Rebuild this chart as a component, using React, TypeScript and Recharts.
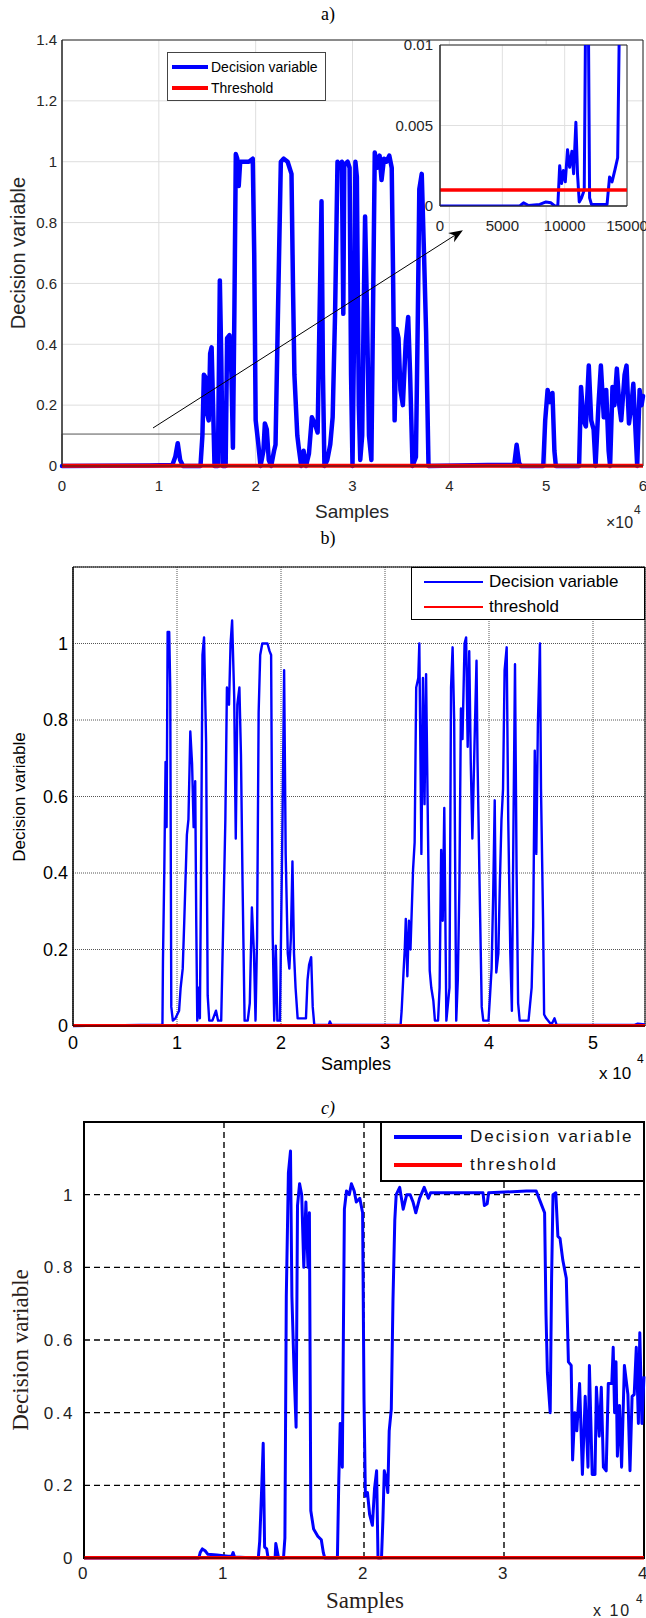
import React from 'react';
import {
  LineChart,
  Line,
  XAxis,
  YAxis,
  CartesianGrid,
  ReferenceArea,
  ReferenceLine,
  Legend,
} from 'recharts';

// ---------------- data ----------------
const thresholdLevel = 0.001;

// panel a)
const panelATicksX = [0, 10000, 20000, 30000, 40000, 50000, 60000];
const panelATicksY = [0, 0.2, 0.4, 0.6, 0.8, 1, 1.2, 1.4];
const panelADecision: [number, number][] = [
  [0, 0], [9000, 0.002], [11400, 0.003], [11700, 0.03], [11950, 0.075], [12200, 0.02], [12500, 0],
  [14300, 0], [14500, 0.1], [14650, 0.3], [14850, 0.29], [15000, 0.17], [15150, 0.15], [15300, 0.37],
  [15450, 0.39], [15600, 0.2], [15750, 0], [16100, 0], [16300, 0.61], [16450, 0.35], [16600, 0],
  [16900, 0], [17050, 0.42], [17300, 0.43], [17500, 0.3], [17650, 0.06], [17800, 0.5], [17950, 1.025],
  [18100, 1.01], [18250, 0.92], [18400, 1.0], [18800, 1.0], [19300, 1.0], [19700, 1.01], [19850, 0.7],
  [20000, 0.15], [20250, 0.08], [20500, 0], [20800, 0.05], [20950, 0.14], [21150, 0.12], [21350, 0.02],
  [21600, 0], [21900, 0.05], [22050, 0.07], [22300, 0.5], [22600, 1.0], [22900, 1.01], [23300, 1.0],
  [23700, 0.96], [23850, 0.6], [24000, 0.3], [24300, 0.1], [24450, 0.06], [24700, 0], [24950, 0.05],
  [25200, 0], [25500, 0.04], [25800, 0.16], [26100, 0.14], [26400, 0.11], [26600, 0.5], [26800, 0.87],
  [26950, 0.3], [27100, 0], [27400, 0.02], [27700, 0.07], [27950, 0.16], [28200, 0.5], [28450, 1.0],
  [28700, 0.98], [28900, 1.0], [29050, 0.5], [29150, 0.99], [29500, 1.0], [29700, 0.98], [29850, 0.3],
  [30000, 0], [30150, 0.4], [30300, 1.0], [30450, 0.95], [30650, 0.2], [30800, 0.02], [31000, 0.1],
  [31150, 0.5], [31300, 0.82], [31500, 0.5], [31700, 0.1], [31950, 0.02], [32150, 0.6], [32300, 1.03],
  [32550, 0.98], [32800, 1.02], [33000, 0.94], [33250, 1.01], [33500, 1.0], [33800, 1.02], [34050, 0.98],
  [34200, 0.6], [34350, 0.15], [34550, 0.45], [34750, 0.42], [34950, 0.25], [35200, 0.2], [35500, 0.41],
  [35750, 0.49], [35950, 0.3], [36200, 0], [36550, 0.03], [36750, 0.5], [36900, 0.91], [37150, 0.96],
  [37400, 0.68], [37600, 0.44], [37850, 0], [44000, 0.003], [46700, 0.003], [46950, 0.07], [47200, 0.01],
  [47400, 0], [49700, 0], [49900, 0.15], [50150, 0.25], [50400, 0.21], [50650, 0.24], [50850, 0.05],
  [51000, 0], [53400, 0], [53600, 0.26], [53850, 0.15], [54100, 0.13], [54400, 0.33], [54650, 0.15],
  [54900, 0.12], [55100, 0], [55400, 0.2], [55650, 0.33], [55950, 0.16], [56200, 0.25], [56450, 0.05],
  [56600, 0], [56850, 0.26], [57050, 0.2], [57300, 0.32], [57550, 0.2], [57750, 0.15], [58100, 0.3],
  [58300, 0.33], [58550, 0.14], [58800, 0.2], [59000, 0.27], [59250, 0.1], [59400, 0], [59650, 0.25],
  [59850, 0.2], [60000, 0.23],
];
const panelAThreshold: [number, number][] = [[0, thresholdLevel], [60000, thresholdLevel]];
const panelAZoomBox = { x1: 0, x2: 16000, y1: 0, y2: 0.105 };
const panelAArrow = [{ x: 9400, y: 0.125 }, { x: 41400, y: 0.775 }];

// panel a) inset
const insetTicksX = [0, 5000, 10000, 15000];
const insetTicksY = [0, 0.005, 0.01];
const insetDecision: [number, number][] = [
  [0, 0], [6400, 0], [6700, 0.0002], [7100, 0.00003], [8000, 0.0001], [8500, 0.00025], [8900, 0.0002],
  [9200, 0], [9450, 0], [9600, 0.0025], [9750, 0.0014], [9900, 0.0022], [10050, 0.0015], [10230, 0.0035],
  [10400, 0.0024], [10580, 0.0034], [10720, 0.002], [10900, 0.0052], [11030, 0.002], [11170, 0.00025],
  [11350, 0.0005], [11570, 0.001], [11680, 0.012], [11900, 0.012], [12000, 0.0005], [12150, 0.0001],
  [13400, 0.0001], [13600, 0.0018], [13800, 0.0015], [14050, 0.0023], [14250, 0.003], [14400, 0.012],
  [15000, 0.012],
];
const insetThreshold: [number, number][] = [[0, thresholdLevel], [15000, thresholdLevel]];

// panel b)
const panelBTicksX = [0, 10000, 20000, 30000, 40000, 50000];
const panelBTicksY = [0, 0.2, 0.4, 0.6, 0.8, 1];
const panelBDecision: [number, number][] = [
  [0, 0], [6500, 0.003], [8600, 0.003], [8650, 0.17], [8780, 0.41], [8900, 0.69], [9000, 0.52],
  [9100, 1.03], [9250, 1.03], [9350, 0.885], [9450, 0.05], [9600, 0.014], [9850, 0.02], [10200, 0.04],
  [10350, 0.1], [10550, 0.15], [10700, 0.275], [10950, 0.5], [11100, 0.54], [11280, 0.77], [11450, 0.685],
  [11600, 0.52], [11750, 0.64], [11850, 0.275], [11950, 0.014], [12050, 0.1], [12200, 0.02], [12300, 0.36],
  [12450, 0.97], [12600, 1.016], [12800, 0.74], [12950, 0.08], [13100, 0.014], [13400, 0.014], [13750, 0.04],
  [13950, 0.014], [14250, 0.014], [14500, 0.34], [14650, 0.54], [14800, 0.885], [15000, 0.84], [15150, 1.0],
  [15300, 1.06], [15500, 0.86], [15650, 0.49], [15800, 0.84], [16000, 0.885], [16150, 0.71], [16300, 0.38],
  [16500, 0.014], [16800, 0.014], [17000, 0.06], [17200, 0.31], [17400, 0.19], [17550, 0.014], [17700, 0.23],
  [17850, 0.82], [18000, 0.97], [18200, 1.0], [18700, 1.0], [18900, 0.98], [19050, 0.97], [19200, 0.24],
  [19350, 0.014], [19500, 0.21], [19650, 0.014], [19900, 0.014], [20150, 0.55], [20300, 0.93], [20450, 0.45],
  [20650, 0.19], [20800, 0.15], [20950, 0.23], [21100, 0.43], [21250, 0.19], [21400, 0.1], [21600, 0.02],
  [22400, 0.02], [22550, 0.12], [22700, 0.16], [22900, 0.18], [23050, 0.05], [23200, 0.003], [24600, 0.003],
  [24700, 0.012], [24850, 0.003], [31500, 0.003], [31600, 0.04], [31800, 0.15], [31900, 0.2], [32000, 0.28],
  [32150, 0.13], [32300, 0.275], [32450, 0.2], [32700, 0.41], [32850, 0.48], [33000, 0.885], [33200, 0.91],
  [33300, 1.0], [33500, 0.45], [33650, 0.91], [33800, 0.58], [33950, 0.92], [34100, 0.58], [34300, 0.145],
  [34450, 0.1], [34650, 0.066], [34800, 0.014], [35100, 0.014], [35250, 0.1], [35400, 0.46], [35550, 0.275],
  [35700, 0.57], [35900, 0.014], [36200, 0.1], [36350, 0.885], [36500, 0.99], [36650, 0.8], [36850, 0.014],
  [37000, 0.12], [37150, 0.36], [37300, 0.83], [37450, 0.75], [37650, 1.0], [37800, 1.016], [37950, 0.73],
  [38100, 0.98], [38250, 0.685], [38400, 0.49], [38600, 0.73], [38800, 0.955], [38900, 0.69], [39100, 0.36],
  [39300, 0.05], [39450, 0.014], [39950, 0.014], [40100, 0.08], [40250, 0.15], [40400, 0.34], [40550, 0.59],
  [40700, 0.14], [40900, 0.19], [41050, 0.38], [41200, 0.54], [41350, 0.62], [41500, 0.93], [41700, 0.99],
  [41850, 0.54], [42050, 0.19], [42200, 0.04], [42350, 0.52], [42500, 0.946], [42650, 0.41], [42800, 0.06],
  [42950, 0.014], [43800, 0.014], [44100, 0.1], [44250, 0.26], [44400, 0.72], [44550, 0.45], [44700, 0.79],
  [44900, 1.0], [45000, 0.62], [45200, 0.275], [45300, 0.03], [45500, 0.02], [46000, 0.003], [46300, 0.02],
  [46500, 0.003], [54000, 0.003], [54300, 0.006], [55000, 0.004],
];
const panelBThreshold: [number, number][] = [[0, thresholdLevel], [55000, thresholdLevel]];

// panel c)
const panelCTicksX = [0, 10000, 20000, 30000, 40000];
const panelCTicksY = [0, 0.2, 0.4, 0.6, 0.8, 1];
const panelCDecision: [number, number][] = [
  [0, 0], [8200, 0], [8300, 0.015], [8450, 0.025], [8650, 0.02], [8850, 0.01], [9500, 0.008], [10300, 0.005],
  [10550, 0.005], [10650, 0.015], [10750, 0.003], [12450, 0], [12550, 0.046], [12700, 0.2], [12800, 0.316],
  [12900, 0.03], [13050, 0.025], [13150, 0], [13650, 0], [13700, 0.04], [13900, 0], [14250, 0], [14350, 0.055],
  [14450, 0.72], [14600, 1.06], [14750, 1.12], [14850, 0.72], [15000, 0.52], [15150, 0.36], [15250, 0.97],
  [15400, 1.03], [15550, 1.0], [15700, 0.8], [15850, 0.98], [16000, 0.8], [16100, 0.95], [16200, 0.13],
  [16400, 0.08], [16700, 0.06], [16950, 0.05], [17100, 0.014], [17200, 0], [18100, 0], [18200, 0.215],
  [18300, 0.37], [18450, 0.25], [18600, 0.96], [18750, 1.01], [18950, 1.0], [19100, 1.03], [19300, 1.01],
  [19450, 0.98], [19700, 0.99], [19900, 0.95], [20000, 0.436], [20100, 0.17], [20250, 0.18], [20400, 0.12],
  [20600, 0.09], [20750, 0.19], [20900, 0.24], [21000, 0], [21250, 0], [21350, 0.105], [21450, 0.24],
  [21600, 0.215], [21700, 0.18], [21800, 0.35], [21950, 0.41], [22070, 0.71], [22200, 0.93], [22300, 1.0],
  [22550, 1.02], [22800, 0.96], [23050, 1.0], [23300, 1.0], [23500, 0.98], [23700, 0.95], [23970, 0.99],
  [24300, 1.02], [24600, 0.99], [24750, 1.005], [28500, 1.005], [28600, 0.97], [28800, 0.975], [28900, 1.005],
  [31600, 1.01], [32300, 1.01], [32550, 0.985], [32900, 0.95], [33000, 0.67], [33100, 0.51], [33300, 0.4],
  [33400, 0.77], [33500, 1.0], [33700, 1.005], [33850, 0.885], [34000, 0.88], [34200, 0.82], [34450, 0.77],
  [34600, 0.54], [34800, 0.53], [34900, 0.27], [35050, 0.4], [35200, 0.35], [35400, 0.48], [35600, 0.23],
  [35800, 0.445], [36000, 0.25], [36100, 0.53], [36300, 0.23], [36500, 0.23], [36600, 0.47], [36800, 0.335],
  [36950, 0.47], [37100, 0.25], [37300, 0.24], [37450, 0.48], [37700, 0.48], [37800, 0.58], [37900, 0.4],
  [38000, 0.54], [38100, 0.28], [38250, 0.42], [38400, 0.25], [38600, 0.53], [38850, 0.45], [39000, 0.24],
  [39150, 0.445], [39300, 0.45], [39450, 0.58], [39600, 0.37], [39700, 0.62], [39850, 0.37], [40000, 0.5],
];
const panelCThreshold: [number, number][] = [[0, thresholdLevel], [40000, thresholdLevel]];

// ---------------- helpers ----------------
const rows = (pts: [number, number][]) => pts.map(([x, y]) => ({ x, y }));
const fmtE4 = (v: number) => String(v / 10000);
const fmtNum = (v: number) => String(v);

const FA = "'Liberation Sans', Arial, Helvetica, sans-serif";
const FS = "'Liberation Serif', 'Times New Roman', Times, serif";

const arrowShape = (props: any) => {
  const { x1, y1, x2, y2 } = props;
  if ([x1, y1, x2, y2].some((v) => typeof v !== 'number')) return <g />;
  const ang = Math.atan2(y2 - y1, x2 - x1);
  const L = 14;
  const W = 5.5;
  const bx = x2 - L * Math.cos(ang);
  const by = y2 - L * Math.sin(ang);
  const nx = x2 - (L * 0.7) * Math.cos(ang);
  const ny = y2 - (L * 0.7) * Math.sin(ang);
  const p1 = `${bx + W * Math.sin(ang)},${by - W * Math.cos(ang)}`;
  const p2 = `${bx - W * Math.sin(ang)},${by + W * Math.cos(ang)}`;
  return (
    <g>
      <line x1={x1} y1={y1} x2={nx} y2={ny} stroke="#000" strokeWidth={1} />
      <polygon points={`${x2},${y2} ${p1} ${nx},${ny} ${p2}`} fill="#000" />
    </g>
  );
};

type LegendCfg = {
  w: number;
  h: number;
  border: string;
  rowY: number[];
  lineX: number;
  lineW: number;
  thick: number;
  gap: number;
  fontSize: number;
  letterSpacing?: number;
  color: string;
};

const makeLegend = (cfg: LegendCfg) => (props: any) => {
  const payload = (props && props.payload) || [];
  return (
    <div
      style={{
        boxSizing: 'border-box',
        width: cfg.w,
        height: cfg.h,
        border: cfg.border,
        background: '#fff',
        position: 'relative',
      }}
    >
      {payload.map((p: any, i: number) => (
        <div
          key={i}
          style={{
            position: 'absolute',
            left: 0,
            top: cfg.rowY[i] - 10,
            height: 20,
            display: 'flex',
            alignItems: 'center',
            whiteSpace: 'nowrap',
          }}
        >
          <span
            style={{
              display: 'inline-block',
              marginLeft: cfg.lineX,
              width: cfg.lineW,
              height: cfg.thick,
              background: p.color,
            }}
          />
          <span
            style={{
              marginLeft: cfg.gap,
              fontSize: cfg.fontSize,
              fontFamily: FA,
              color: cfg.color,
              letterSpacing: cfg.letterSpacing || 0,
              lineHeight: '20px',
            }}
          >
            {p.value}
          </span>
        </div>
      ))}
    </div>
  );
};

const legendA = makeLegend({
  w: 159, h: 49, border: '1px solid #444', rowY: [14, 35], lineX: 4, lineW: 36, thick: 4,
  gap: 3, fontSize: 14, color: '#000',
});
const legendB = makeLegend({
  w: 234, h: 53, border: '1.5px solid #000', rowY: [14, 39], lineX: 12, lineW: 59, thick: 2.5,
  gap: 6, fontSize: 17, color: '#000',
});
const legendC = makeLegend({
  w: 265, h: 61, border: '2px solid #000', rowY: [14, 42], lineX: 12, lineW: 68, thick: 3.5,
  gap: 8, fontSize: 17, letterSpacing: 2, color: '#111',
});

export default function App() {
  const aData = rows(panelADecision);
  const aThr = rows(panelAThreshold);
  const iData = rows(insetDecision);
  const iThr = rows(insetThreshold);
  const bData = rows(panelBDecision);
  const bThr = rows(panelBThreshold);
  const cData = rows(panelCDecision);
  const cThr = rows(panelCThreshold);

  const tickA = { fontSize: 15, fill: '#262626', fontFamily: FA };
  const tickB = { fontSize: 18, fill: '#000', fontFamily: FA };
  const tickC = { fontSize: 17, fill: '#222', fontFamily: FA, letterSpacing: 2.5, style: { letterSpacing: '2.5px' } };

  return (
    <div
      style={{
        position: 'absolute',
        left: 0,
        top: 0,
        width: 646,
        height: 1618,
        background: '#fff',
        overflow: 'hidden',
      }}
    >
      {/* ---------- panel a ---------- */}
      <div style={{ position: 'absolute', left: 0, top: 0 }}>
        <LineChart width={646} height={500} margin={{ top: 40, right: 3, bottom: 0, left: 0 }}>
          <CartesianGrid stroke="#dedede" strokeWidth={1} />
          <XAxis
            type="number"
            dataKey="x"
            domain={[0, 60000]}
            ticks={panelATicksX}
            interval={0}
            tickFormatter={fmtE4}
            height={34}
            tickLine={false}
            tickSize={0}
            tickMargin={14}
            axisLine={{ stroke: '#262626' }}
            tick={tickA}
          />
          <YAxis
            type="number"
            domain={[0, 1.4]}
            ticks={panelATicksY}
            interval={0}
            tickFormatter={fmtNum}
            width={62}
            tickLine={false}
            tickSize={0}
            tickMargin={5}
            axisLine={{ stroke: '#262626' }}
            tick={tickA}
          />
          <ReferenceArea x1={0} x2={60000} y1={0} y2={1.4} fill="#fff" fillOpacity={0} stroke="#262626" strokeWidth={1} ifOverflow="visible" />
          <ReferenceArea
            x1={panelAZoomBox.x1}
            x2={panelAZoomBox.x2}
            y1={panelAZoomBox.y1}
            y2={panelAZoomBox.y2}
            fill="#fff"
            fillOpacity={0}
            stroke="#555"
            strokeWidth={1}
            ifOverflow="visible"
          />
          <Line
            data={aData}
            dataKey="y"
            name="Decision variable"
            stroke="#0000ff"
            strokeWidth={4.5}
            strokeLinejoin="round"
            strokeLinecap="round"
            dot={false}
            activeDot={false}
            isAnimationActive={false}
          />
          <Line
            data={aThr}
            dataKey="y"
            name="Threshold"
            stroke="#ff0000"
            strokeWidth={4}
            dot={false}
            activeDot={false}
            isAnimationActive={false}
          />
          <ReferenceLine segment={panelAArrow} ifOverflow="visible" shape={arrowShape} stroke="#000" />
          <Legend
            layout="vertical"
            align="center"
            verticalAlign="middle"
            wrapperStyle={{ left: 167, top: 52, width: 159, height: 49 }}
            content={legendA}
          />
        </LineChart>
      </div>

      {/* ---------- panel a inset ---------- */}
      <div style={{ position: 'absolute', left: 380, top: 30 }}>
        <LineChart width={266} height={210} margin={{ top: 15, right: 19, bottom: 0, left: 0 }}>
          <CartesianGrid stroke="#e0e0e0" strokeWidth={1} fill="#fff" fillOpacity={1} />
          <XAxis
            type="number"
            dataKey="x"
            domain={[0, 15000]}
            ticks={insetTicksX}
            interval={0}
            tickFormatter={fmtNum}
            height={34}
            tickLine={false}
            tickSize={0}
            tickMargin={14}
            axisLine={{ stroke: '#262626' }}
            tick={tickA}
            allowDataOverflow
          />
          <YAxis
            type="number"
            domain={[0, 0.01]}
            ticks={insetTicksY}
            interval={0}
            tickFormatter={fmtNum}
            width={60}
            tickLine={false}
            tickSize={0}
            tickMargin={7}
            axisLine={{ stroke: '#262626' }}
            tick={tickA}
            allowDataOverflow
          />
          <Line
            data={iData}
            dataKey="y"
            name="Decision variable"
            stroke="#0000ff"
            strokeWidth={3}
            strokeLinejoin="round"
            dot={false}
            activeDot={false}
            isAnimationActive={false}
          />
          <Line
            data={iThr}
            dataKey="y"
            name="Threshold"
            stroke="#ff0000"
            strokeWidth={3.5}
            dot={false}
            activeDot={false}
            isAnimationActive={false}
          />
          <ReferenceArea x1={0} x2={15000} y1={0} y2={0.01} fill="#fff" fillOpacity={0} stroke="#262626" strokeWidth={1} ifOverflow="visible" />
        </LineChart>
      </div>

      {/* ---------- panel b ---------- */}
      <div style={{ position: 'absolute', left: 0, top: 520 }}>
        <LineChart width={646} height={540} margin={{ top: 47, right: 1, bottom: 0, left: 0 }}>
          <CartesianGrid stroke="#555" strokeWidth={1} strokeDasharray="1 1" />
          <XAxis
            type="number"
            dataKey="x"
            domain={[0, 55000]}
            ticks={panelBTicksX}
            interval={0}
            tickFormatter={fmtE4}
            height={34}
            tickLine={false}
            tickSize={0}
            tickMargin={10}
            axisLine={{ stroke: '#000' }}
            tick={tickB}
          />
          <YAxis
            type="number"
            domain={[0, 1.2]}
            ticks={panelBTicksY}
            interval={0}
            tickFormatter={fmtNum}
            width={73}
            tickLine={false}
            tickSize={0}
            tickMargin={5}
            axisLine={{ stroke: '#000' }}
            tick={tickB}
          />
          <ReferenceArea x1={0} x2={55000} y1={0} y2={1.2} fill="#fff" fillOpacity={0} stroke="#000" strokeWidth={1} ifOverflow="visible" />
          <Line
            data={bData}
            dataKey="y"
            name="Decision variable"
            stroke="#0000ff"
            strokeWidth={2.4}
            strokeLinejoin="round"
            dot={false}
            activeDot={false}
            isAnimationActive={false}
          />
          <Line
            data={bThr}
            dataKey="y"
            name="threshold"
            stroke="#ff0000"
            strokeWidth={3}
            dot={false}
            activeDot={false}
            isAnimationActive={false}
          />
          <Legend
            layout="vertical"
            align="center"
            verticalAlign="middle"
            wrapperStyle={{ left: 411, top: 47, width: 234, height: 53 }}
            content={legendB}
          />
        </LineChart>
      </div>

      {/* ---------- panel c ---------- */}
      <div style={{ position: 'absolute', left: 0, top: 1100 }}>
        <LineChart width={646} height={490} margin={{ top: 22, right: 2, bottom: 0, left: 0 }}>
          <CartesianGrid stroke="#000" strokeWidth={1.4} strokeDasharray="6 4" />
          <XAxis
            type="number"
            dataKey="x"
            domain={[0, 40000]}
            ticks={panelCTicksX}
            interval={0}
            tickFormatter={fmtE4}
            height={32}
            tickLine={false}
            tickSize={0}
            tickMargin={9}
            axisLine={{ stroke: '#000' }}
            tick={tickC}
          />
          <YAxis
            type="number"
            domain={[0, 1.2]}
            ticks={panelCTicksY}
            interval={0}
            tickFormatter={fmtNum}
            width={84}
            tickLine={false}
            tickSize={0}
            tickMargin={9}
            axisLine={{ stroke: '#000' }}
            tick={tickC}
          />
          <ReferenceArea x1={0} x2={40000} y1={0} y2={1.2} fill="#fff" fillOpacity={0} stroke="#000" strokeWidth={2} ifOverflow="visible" />
          <Line
            data={cData}
            dataKey="y"
            name="Decision variable"
            stroke="#0000ff"
            strokeWidth={3}
            strokeLinejoin="round"
            dot={false}
            activeDot={false}
            isAnimationActive={false}
          />
          <Line
            data={cThr}
            dataKey="y"
            name="threshold"
            stroke="#ff0000"
            strokeWidth={3.5}
            dot={false}
            activeDot={false}
            isAnimationActive={false}
          />
          <Legend
            layout="vertical"
            align="center"
            verticalAlign="middle"
            wrapperStyle={{ left: 380, top: 21, width: 265, height: 61 }}
            content={legendC}
          />
        </LineChart>
      </div>

      {/* ---------- titles and axis labels ---------- */}
      <svg
        width={646}
        height={1618}
        style={{ position: 'absolute', left: 0, top: 0, pointerEvents: 'none' }}
      >
        {/* a */}
        <text x={328} y={20} textAnchor="middle" fontFamily={FS} fontSize={18} fill="#000">a)</text>
        <text x={352} y={518} textAnchor="middle" fontFamily={FA} fontSize={19} fill="#262626">Samples</text>
        <text x={606} y={528} fontFamily={FA} fontSize={16} fill="#262626">×10</text>
        <text x={634} y={514} fontFamily={FA} fontSize={12} fill="#262626">4</text>
        <text transform="translate(25,253) rotate(-90)" textAnchor="middle" fontFamily={FA} fontSize={20} fill="#262626">Decision variable</text>
        {/* b */}
        <text x={328} y={544} textAnchor="middle" fontFamily={FS} fontSize={18} fill="#000">b)</text>
        <text x={356} y={1070} textAnchor="middle" fontFamily={FA} fontSize={18} fill="#000">Samples</text>
        <text x={599} y={1079} fontFamily={FA} fontSize={17} fill="#000">x 10</text>
        <text x={637} y={1063} fontFamily={FA} fontSize={12} fill="#000">4</text>
        <text transform="translate(25,797) rotate(-90)" textAnchor="middle" fontFamily={FA} fontSize={17} fill="#000">Decision variable</text>
        {/* c */}
        <text x={328} y={1114} textAnchor="middle" fontFamily={FS} fontSize={18} fontStyle="italic" fill="#000">c)</text>
        <text x={365} y={1608} textAnchor="middle" fontFamily={FS} fontSize={23} fill="#2a2018">Samples</text>
        <text x={593} y={1616} fontFamily={FA} fontSize={16} letterSpacing={2} fill="#222">x 10</text>
        <text x={636} y={1603} fontFamily={FA} fontSize={12} fill="#222">4</text>
        <text transform="translate(28,1350) rotate(-90)" textAnchor="middle" fontFamily={FS} fontSize={23} fill="#2a2018">Decision variable</text>
      </svg>
    </div>
  );
}
